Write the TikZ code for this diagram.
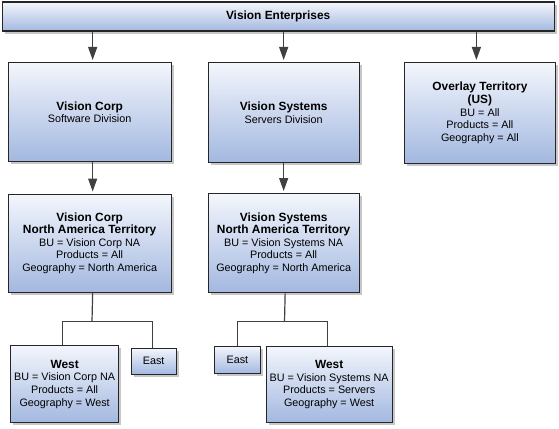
\documentclass[tikz,border=0pt]{standalone}
\usepackage{fontspec}
\setmainfont{Liberation Sans}
\usetikzlibrary{shadows,arrows.meta}
\definecolor{boxtop}{HTML}{F3F6FC}
\definecolor{boxbot}{HTML}{A3B8E0}
\definecolor{edge}{HTML}{262626}
\definecolor{wire}{HTML}{404040}
\newcommand\bhead[1]{{\fontsize{11.9}{12.6}\selectfont\bfseries #1}}
\tikzset{
  orgbox/.style={draw=edge, line width=1.3pt, top color=boxtop, bottom color=boxbot,
    anchor=north west, inner sep=0pt, align=center,
    font=\fontsize{10.8}{12.6}\selectfont,
    drop shadow={shadow xshift=2.5pt, shadow yshift=-2.5pt, fill=black!22, opacity=1}},
  arr/.style={draw=wire, line width=1.2pt, -{Triangle[length=13pt,width=9pt]}, shorten >=2pt},
  wirel/.style={draw=wire, line width=1.2pt}
}
\begin{document}
\begin{tikzpicture}[x=1pt,y=-1pt]
\useasboundingbox (0,0) rectangle (559,428);
% boxes
\node[orgbox, minimum width=552pt, minimum height=29pt] (ent) at (1.5,1.5) {\bhead{Vision Enterprises}};
\node[orgbox, minimum width=163pt, minimum height=99pt] (vc) at (7.5,62) {\bhead{Vision Corp}\\Software Division};
\node[orgbox, minimum width=151pt, minimum height=100pt] (vs) at (207.5,62) {\bhead{Vision Systems}\\Servers Division};
\node[orgbox, minimum width=151.5pt, minimum height=100.5pt] (ov) at (403.5,62) {\bhead{Overlay Territory}\\\bhead{(US)}\\BU = All\\Products = All\\Geography = All};
\node[orgbox, minimum width=163pt, minimum height=98pt] (nac) at (7.5,193.5) {\bhead{Vision Corp}\\\bhead{North America Territory}\\BU = Vision Corp NA\\Products = All\\Geography = North America};
\node[orgbox, minimum width=151pt, minimum height=99pt] (nas) at (207.5,193) {\bhead{Vision Systems}\\\bhead{North America Territory}\\BU = Vision Systems NA\\Products = All\\Geography = North America};
\node[orgbox, minimum width=108pt, minimum height=77pt] (wc) at (10,345) {\bhead{West}\\BU = Vision Corp NA\\Products = All\\Geography = West};
\node[orgbox, minimum width=45pt, minimum height=26pt] (ec) at (130.5,347.5) {East};
\node[orgbox, minimum width=46.5pt, minimum height=27.5pt] (es) at (213.5,345.5) {East};
\node[orgbox, minimum width=126pt, minimum height=76.5pt] (ws) at (265.5,345.5) {\bhead{West}\\BU = Vision Systems NA\\Products = Servers\\Geography = West};
% arrows
\draw[arr] ([xshift=3pt]vc.north |- ent.south) -- ([xshift=3pt]vc.north);
\draw[arr] (vs.north |- ent.south) -- (vs.north);
\draw[arr] ([xshift=-3.5pt]ov.north |- ent.south) -- ([xshift=-3.5pt]ov.north);
\draw[arr] ([xshift=3pt]nac.north |- vc.south) -- ([xshift=3pt]nac.north);
\draw[arr] (nas.north |- vs.south) -- (nas.north);
% tree connectors
\coordinate (jc) at (92,321.5);
\coordinate (js) at (284.5,321.5);
\draw[wirel] ([xshift=3pt]nac.south) -- (jc);
\draw[wirel] ([xshift=-2.5pt]wc.north) |- (jc) -| ([xshift=-1.5pt]ec.north);
\draw[wirel] ([xshift=1.5pt]nas.south) -- (js);
\draw[wirel] (es.north) |- (js) -| ([xshift=-2pt]ws.north);
\end{tikzpicture}
\end{document}
